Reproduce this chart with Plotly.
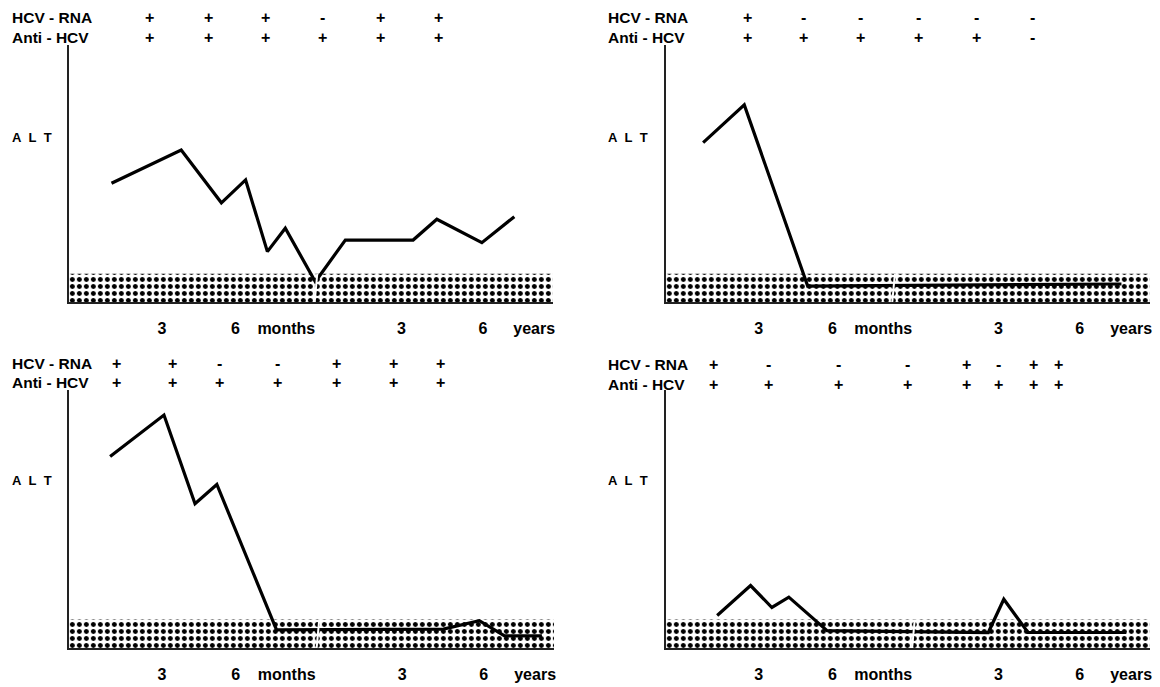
import plotly.graph_objects as go

# ---------------- data ----------------
# time positions are on a normalised 0-100 axis (months segment, break, years segment)
tick_vals = [19.2, 34.4, 44.9, 68.7, 85.5, 96.1]
tick_text = ["3", "6", "months", "3", "6", "years"]
uln = 11  # upper limit of normal ALT (stippled band)

a_time = [8.8, 23.2, 31.5, 36.5, 41.0, 44.7, 50.9, 57.1, 71.1, 76.0, 85.3, 92.0]
a_alt = [46.2, 59.1, 38.6, 47.5, 19.6, 28.7, 7.9, 24.1, 24.1, 32.2, 23.1, 33.2]
a_mark_time = [16.7, 28.9, 40.6, 52.4, 64.3, 76.3]
a_rna = ["+", "+", "+", "-", "+", "+"]
a_anti = ["+", "+", "+", "+", "+", "+"]
a_break = 51.0

b_time = [7.7, 16.2, 29.3, 94.1]
b_alt = [62.0, 76.7, 6.2, 7.0]
b_mark_time = [16.9, 28.5, 40.3, 52.2, 64.1, 75.7]
b_rna = ["+", "-", "-", "-", "-", "-"]
b_anti = ["+", "+", "+", "+", "+", "-"]
b_break = 47.0

c_time = [8.5, 19.6, 26.0, 30.5, 42.8, 50.7, 51.8, 77.2, 84.6, 89.8, 97.5]
c_alt = [74.2, 90.3, 55.9, 63.4, 7.0, 7.0, 7.3, 7.3, 10.6, 4.7, 4.7]
c_mark_time = [9.9, 21.4, 31.1, 43.1, 55.1, 67.0, 76.5]
c_rna = ["+", "+", "-", "-", "+", "+", "+"]
c_anti = ["+", "+", "+", "+", "+", "+", "+"]
c_break = 51.3

d_time = [10.6, 17.5, 21.9, 25.4, 33.3, 66.6, 69.8, 74.8, 95.1]
d_alt = [12.6, 24.2, 15.7, 19.7, 6.7, 6.0, 18.9, 6.0, 6.0]
d_mark_time = [9.9, 21.2, 35.7, 49.9, 62.1, 68.7, 75.9, 81.0]
d_rna = ["+", "-", "-", "-", "+", "-", "+", "+"]
d_anti = ["+", "+", "+", "+", "+", "+", "+", "+"]
d_break = 51.1

panels = [
    dict(t=a_time, v=a_alt, mt=a_mark_time, rna=a_rna, anti=a_anti, brk=a_break),
    dict(t=b_time, v=b_alt, mt=b_mark_time, rna=b_rna, anti=b_anti, brk=b_break),
    dict(t=c_time, v=c_alt, mt=c_mark_time, rna=c_rna, anti=c_anti, brk=c_break),
    dict(t=d_time, v=d_alt, mt=d_mark_time, rna=d_rna, anti=d_anti, brk=d_break),
]

# ---------------- layout (pixels) ----------------
W, H = 1160, 687
# x0 (axis), width, y_top, y_bottom, label_x, row1_y, row2_y, alt_y
geo = [
    (69, 485, 45, 302, 10, 17, 37, 137),
    (667, 485, 45, 302, 607, 17, 37, 137),
    (69, 486, 390, 648, 10, 363, 382, 480),
    (667, 485, 390, 648, 607, 364, 384, 480),
]

FONT = "Liberation Sans, Arial, sans-serif"
fig = go.Figure()
annotations = []
shapes = []

for i, (p, g) in enumerate(zip(panels, geo)):
    x0, w, yt, yb, lx, r1, r2, aly = g
    n = "" if i == 0 else str(i + 1)
    xa, ya = "x" + n, "y" + n
    # stippled normal-range band
    fig.add_trace(go.Scatter(
        x=[0, 100], y=[uln, uln], xaxis=xa, yaxis=ya, mode="lines",
        line=dict(width=0), fill="tozeroy", fillcolor="white",
        fillpattern=dict(shape=".", fgcolor="black", bgcolor="white",
                         fgopacity=1, fillmode="replace",
                         size=7, solidity=0.4),
        hoverinfo="skip", showlegend=False))
    # ALT curve
    fig.add_trace(go.Scatter(
        x=p["t"], y=p["v"], xaxis=xa, yaxis=ya, mode="lines",
        line=dict(color="black", width=3.2), showlegend=False))
    # axis break
    shapes.append(dict(type="line", xref=xa, yref=ya,
                       x0=p["brk"] - 0.3, x1=p["brk"] + 0.3, y0=-1.5, y1=uln,
                       line=dict(color="white", width=2)))
    dom_x = [x0 / W, (x0 + w) / W]
    dom_y = [1 - yb / H, 1 - yt / H]
    axk = "xaxis" + n
    ayk = "yaxis" + n
    fig.update_layout(**{
        axk: dict(domain=dom_x, range=[0, 100], anchor=ya, showgrid=False,
                  zeroline=False, showline=True, linecolor="#222", linewidth=2,
                  tickvals=tick_vals, ticktext=tick_text, ticks="",
                  ticklabelstandoff=11,
                  tickfont=dict(family=FONT, size=16, color="black", weight="bold")),
        ayk: dict(domain=dom_y, range=[0, 100], anchor=xa, showgrid=False,
                  zeroline=False, showline=True, linecolor="#222", linewidth=2,
                  showticklabels=False, ticks=""),
    })
    # header labels
    for txt, ry in (("HCV - RNA", r1), ("Anti - HCV", r2)):
        annotations.append(dict(x=lx / W, y=1 - ry / H, xref="paper", yref="paper",
                                text=txt, showarrow=False, xanchor="left",
                                yanchor="middle",
                                font=dict(family=FONT, size=15.5, color="black",
                                          weight="bold")))
    for row, ry in ((p["rna"], r1), (p["anti"], r2)):
        for t, s in zip(p["mt"], row):
            annotations.append(dict(x=t, y=1 - ry / H, xref=xa, yref="paper",
                                    text=s, showarrow=False, xanchor="center",
                                    yanchor="middle",
                                    font=dict(family=FONT, size=16, color="black",
                                              weight="bold")))
    annotations.append(dict(x=lx / W, y=1 - aly / H, xref="paper", yref="paper",
                            text="A\u00a0 L\u00a0 T", showarrow=False,
                            xanchor="left", yanchor="middle",
                            font=dict(family=FONT, size=13, color="black",
                                      weight="bold")))

fig.update_layout(width=W, height=H, margin=dict(l=0, r=0, t=0, b=0),
                  paper_bgcolor="white", plot_bgcolor="white",
                  annotations=annotations, shapes=shapes, showlegend=False)
fig.write_html("out.html", config={"displayModeBar": False},
               post_script="document.body.style.margin='0px';"
                           "document.body.style.padding='0px';")
